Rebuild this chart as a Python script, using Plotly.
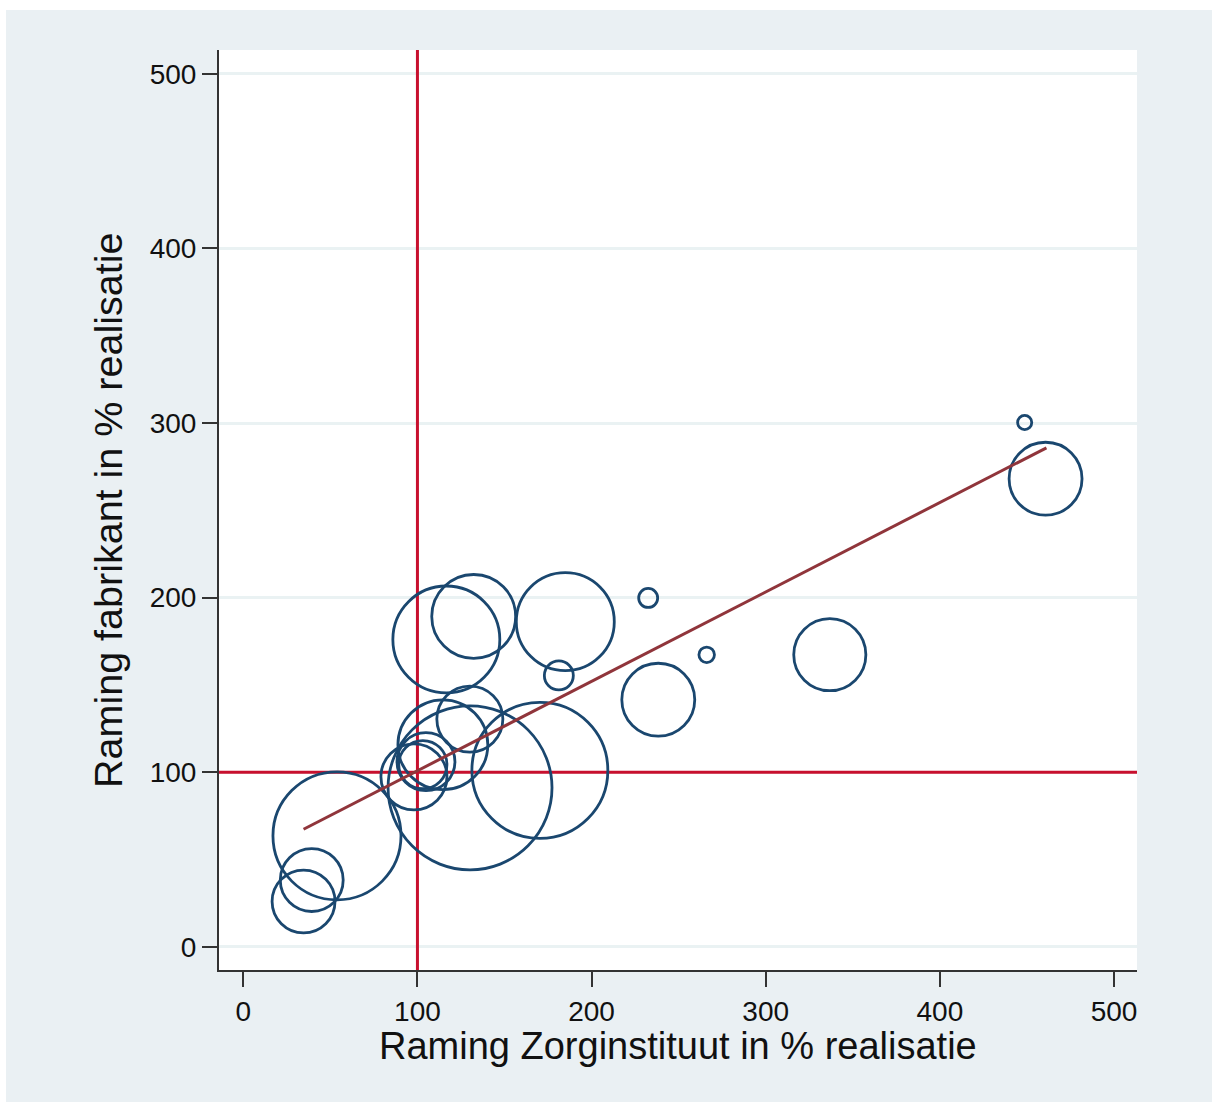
import plotly.graph_objects as go

# Raming Zorginstituut vs. raming fabrikant, beide in % van de realisatie
raming_zin = [448.7, 460.7, 336.8, 266.1, 232.5, 238.3, 184.9, 181.2, 132.3, 116.6,
              130.1, 114.6, 130.2, 170.3, 98.0, 103.1, 104.9, 53.8, 39.3, 34.6]
raming_fabrikant = [300.3, 268.1, 167.3, 167.2, 199.8, 141.5, 186.2, 155.4, 189.2, 176.0,
                    130.4, 115.7, 91.0, 101.0, 97.3, 104.3, 106.0, 63.5, 38.2, 25.9]
# gewicht per geneesmiddel (bepaalt de oppervlakte van de cirkel)
gewicht = [5, 133, 130, 6, 9, 133, 240, 21, 176, 286,
           109, 202, 672, 462, 109, 58, 84, 410, 99, 99]

# gewogen regressielijn (begin- en eindpunt)
fit_x = [34.6, 461.2]
fit_y = [67.3, 285.8]

referentie = 100
y_ticks = [0, 100, 200, 300, 400, 500]
x_ticks = [0, 100, 200, 300, 400, 500]
x_range = [-13.95, 513.2]
y_range = [-13.35, 513.7]

NAVY = "#1a476f"
MAROON = "#90353b"
RED = "#c8102e"
BG = "#eaf0f3"
GRID = "#eaf2f3"
AX = "#333333"
FONT = "Liberation Sans, Arial, sans-serif"

W, H = 1212, 1102
ML, MR, MT, MB = 219, 75, 50, 132
PW, PH = W - ML - MR, H - MT - MB


def px_x(p):
    return (p - ML) / PW


def px_y(p):
    return (H - MB - p) / PH


fig = go.Figure()

# referentielijnen op 100% (onder de cirkels, boven het raster)
fig.add_trace(go.Scatter(
    x=[referentie, referentie], y=y_range, mode="lines",
    line=dict(color=RED, width=3), hoverinfo="skip", showlegend=False,
))
fig.add_trace(go.Scatter(
    x=x_range, y=[referentie, referentie], mode="lines",
    line=dict(color=RED, width=3), hoverinfo="skip", showlegend=False,
))

fig.add_trace(go.Scatter(
    x=raming_zin, y=raming_fabrikant, mode="markers",
    marker=dict(symbol="circle-open", size=gewicht, sizemode="area", sizeref=1 / 20,
                opacity=1, color=NAVY, line=dict(color=NAVY, width=2.8)),
    hoverinfo="x+y", showlegend=False,
))

fig.add_trace(go.Scatter(
    x=fit_x, y=fit_y, mode="lines",
    line=dict(color=MAROON, width=3), showlegend=False,
))

shapes = [
    # witte rand links en boven
    dict(type="rect", xref="paper", yref="paper", x0=px_x(0), x1=px_x(6),
         y0=px_y(H), y1=px_y(0), fillcolor="white", line=dict(width=0), layer="below"),
    dict(type="rect", xref="paper", yref="paper", x0=px_x(0), x1=px_x(W),
         y0=px_y(10), y1=px_y(0), fillcolor="white", line=dict(width=0), layer="below"),
]

annotations = [
    dict(text="Raming Zorginstituut in % realisatie", xref="paper", yref="paper",
         x=px_x(678), y=px_y(1046), xanchor="center", yanchor="middle", showarrow=False,
         font=dict(family=FONT, size=38, color="#111111")),
    dict(text="Raming fabrikant in % realisatie", xref="paper", yref="paper",
         x=px_x(108), y=px_y(511), xanchor="center", yanchor="middle", showarrow=False,
         textangle=-90, font=dict(family=FONT, size=39.5, color="#111111")),
]

fig.update_layout(
    width=W, height=H,
    margin=dict(l=ML, r=MR, t=MT, b=MB, pad=0),
    paper_bgcolor=BG, plot_bgcolor="white",
    font=dict(family=FONT, size=28, color="#111111"),
    shapes=shapes, annotations=annotations,
    xaxis=dict(range=x_range, tickvals=x_ticks, showgrid=False, zeroline=False,
               showline=True, linecolor=AX, linewidth=2, ticks="outside", ticklen=15,
               tickwidth=2, tickcolor=AX, tickfont=dict(size=28, family=FONT)),
    yaxis=dict(range=y_range, tickvals=y_ticks, showgrid=True, gridcolor=GRID,
               gridwidth=2.5, zeroline=False, showline=True, linecolor=AX, linewidth=2,
               ticks="outside", ticklen=15, tickwidth=2, tickcolor=AX,
               tickfont=dict(size=28, family=FONT)),
)

fig.write_html("out.html")
